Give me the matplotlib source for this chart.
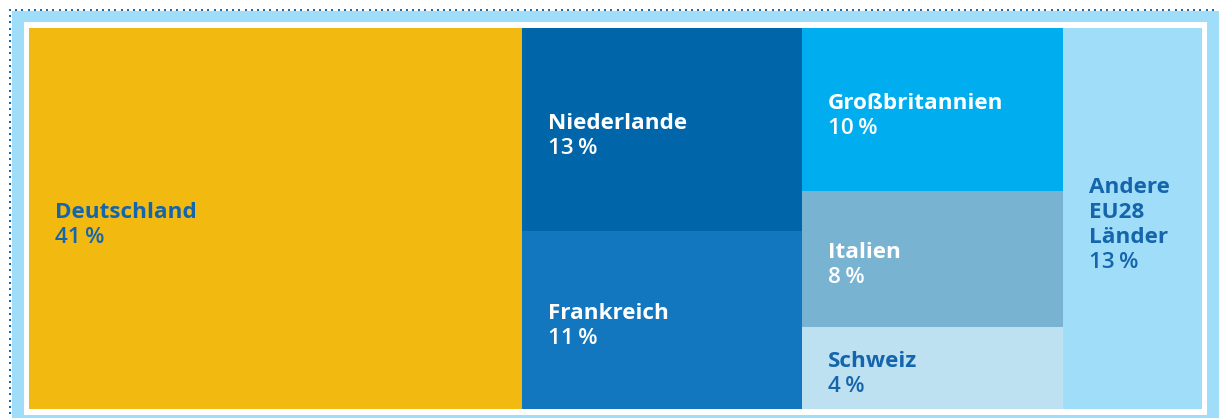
import matplotlib.pyplot as plt
from matplotlib.patches import Rectangle
import numpy as np

plt.rcParams['font.family'] = ['Open Sans', 'DejaVu Sans']

# Anteile (Flächen aus dem Bild geschätzt) und Beschriftungen
names = ['Deutschland', 'Niederlande', 'Frankreich', 'Großbritannien',
         'Italien', 'Schweiz', 'Andere\nEU28\nLänder']
shares = [42.0, 12.7, 11.15, 9.5, 7.9, 4.8, 11.85]
pct_labels = ['41\u2009%', '13\u2009%', '11\u2009%', '10\u2009%', '8\u2009%', '4\u2009%', '13\u2009%']
columns = [[0], [1, 2], [3, 4, 5], [6]]

colors = ['#F2BA10', '#0066A9', '#1277BE', '#00AEEF', '#78B3D2', '#BEE1F1', '#9FDDF8']
text_colors = ['#1565AD', 'white', 'white', 'white', 'white', '#1565AD', '#1565AD']

W, H = 1219, 418
fig = plt.figure(figsize=(W / 100, H / 100), dpi=100)

# Hintergrund / Rahmen in Pixelkoordinaten
bg = fig.add_axes([0, 0, 1, 1])
bg.set_xlim(0, W)
bg.set_ylim(H, 0)
bg.axis('off')
bg.add_patch(Rectangle((12, 11), W - 12, H - 11, color='#9FDDF8', lw=0))
bg.add_patch(Rectangle((24, 22), 1207 - 24, 415 - 22, color='white', lw=0))
dots_x = np.arange(10, W, 6.2)
dots_y = np.arange(10, H, 6.2)
bg.scatter(dots_x, np.full_like(dots_x, 10), s=2.5, color='#1A6BB3', marker='s', lw=0)
bg.scatter(np.full_like(dots_y, 10), dots_y, s=2.5, color='#1A6BB3', marker='s', lw=0)

# Treemap
x0, y0, x1, y1 = 29, 28, 1202, 409
ax = fig.add_axes([x0 / W, 1 - y1 / H, (x1 - x0) / W, (y1 - y0) / H])
total = sum(shares)
ax.set_xlim(0, total)
ax.set_ylim(1, 0)
ax.axis('off')

line_h = 25
x = 0
for col in columns:
    cw = sum(shares[i] for i in col)
    y = 0
    for i in col:
        h = shares[i] / cw
        ax.add_patch(Rectangle((x, y), cw, h, color=colors[i], lw=0))
        lines = names[i].split('\n') + [pct_labels[i]]
        n = len(lines)
        yc = y + h / 2
        for k, line in enumerate(lines):
            dy = 3 + (k - (n - 1) / 2) * line_h + 9
            ax.annotate(line, xy=(x, yc), xytext=(26, -dy), textcoords='offset pixels',
                        ha='left', va='baseline', fontsize=16.2,
                        fontweight='bold' if k < n - 1 else 'semibold',
                        color=text_colors[i])
        y += h
    x += cw

fig.savefig('out.png', dpi=100)
